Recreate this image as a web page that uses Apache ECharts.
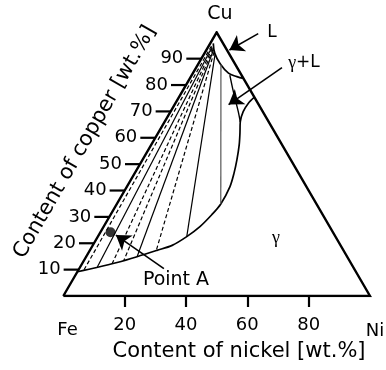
<!DOCTYPE html>
<html>
<head>
<meta charset="utf-8">
<script src="https://cdn.jsdelivr.net/npm/echarts@6/dist/echarts.min.js"></script>
<style>
html,body{margin:0;padding:0;background:#fff;}
#c{width:386px;height:370px;}
</style>
</head>
<body>
<div id="c"></div>
<script>
// All compositions are [Ni wt.%, Cu wt.%] (Fe = balance)
const triangle = [[0, 0], [100, 0], [0, 100], [0, 0]];
const liquidus = [[1, 95.8], [3.4, 92], [7, 88.2], [11.6, 84.5], [15, 83.2], [17.5, 82.5]];
const solidus = [[0, 9.2], [5.5, 10.8], [11.2, 12.7], [16.6, 14.9], [21.9, 17.3], [25.9, 19.2],
  [29, 22.5], [31.4, 26.3], [33, 30.8], [33.9, 34.9], [33.6, 41.5], [32.4, 46.5], [30.8, 51.6],
  [28.7, 57.3], [26.7, 61.8], [24.7, 66], [23.7, 69.9], [23.8, 73.1], [24.6, 75.4]];
const gammaLBoundary = [[12.4, 83.8], [16.7, 77.5], [22.1, 69.9], [24.7, 66]];
const tieLiquid = [[0.9, 94.8], [1.3, 94.4], [1.6, 94], [2, 93.7], [2.3, 93.3], [2.9, 92.5], [3.6, 91.8], [7.5, 87.8]];
const tieSolid = [[1.8, 9.7], [5.6, 11], [9.8, 12.2], [13, 13.4], [16.6, 14.9], [21.7, 17.2], [29, 22.5], [33.9, 34.9]];
const tieDashed = [true, false, true, true, false, true, false, false];
const pointA = [3.3, 24.2];
const arrowL = [[13.8, 99.5], [7.5, 93.3]];
const arrowGammaL = [[28, 86.6], [17.6, 72.6]];
const arrowPointA = [[27.6, 10.4], [5.6, 23.1]];
const nickelTicks = [20, 40, 60, 80];
const copperTicks = [10, 20, 30, 40, 50, 60, 70, 80, 90];

const FONT = '"DejaVu Sans", sans-serif';
function xy(p) { return [p[0] + p[1] / 2, p[1]]; }

const series = [];
series.push({
  type: 'line', data: triangle.map(xy), symbol: 'none', silent: true,
  lineStyle: { color: '#000', width: 2.4, join: 'miter' }
});
series.push({
  type: 'line', data: liquidus.map(xy), symbol: 'none', smooth: 0.4,
  lineStyle: { color: '#000', width: 1.7 }
});
series.push({
  type: 'line', data: solidus.map(xy), symbol: 'none', smooth: 0.3,
  lineStyle: { color: '#000', width: 1.7 }
});
series.push({
  type: 'line', data: gammaLBoundary.map(xy), symbol: 'none', smooth: 0.3,
  lineStyle: { color: '#000', width: 1.4 }
});
tieLiquid.forEach((t, i) => {
  series.push({
    type: 'line', data: [xy(t), xy(tieSolid[i])], symbol: 'none',
    lineStyle: { color: i === tieLiquid.length - 1 ? '#555' : '#000', width: 1.2, type: tieDashed[i] ? [4, 2.5] : 'solid' }
  });
});
series.push({
  type: 'scatter', data: [xy(pointA)], symbol: 'circle', symbolSize: 10,
  itemStyle: { color: '#000' }
});
series.push({
  type: 'lines', coordinateSystem: 'cartesian2d', symbol: ['none', 'arrow'], symbolSize: 14,
  lineStyle: { color: '#000', width: 1.6, opacity: 1, curveness: 0 },
  data: [arrowL, arrowGammaL, arrowPointA].map(a => ({ coords: a.map(xy) }))
});
series.push({
  type: 'custom', data: copperTicks.map(v => [v]),
  renderItem: function (params, api) {
    const c = api.value(0);
    const p = api.coord([c / 2, c]);
    return {
      type: 'group', children: [
        { type: 'line', shape: { x1: p[0] - 15, y1: p[1], x2: p[0], y2: p[1] }, style: { stroke: '#000', lineWidth: 2.2 } },
        { type: 'text', style: { text: String(c), x: p[0] - 18, y: p[1], align: 'right', verticalAlign: 'middle', font: '18px ' + FONT, fill: '#000' } }
      ]
    };
  }
});

function label(text, x, y, size, extra) {
  return Object.assign({
    type: 'text', x: x, y: y,
    style: { text: text, font: size + 'px ' + FONT, fill: '#000', align: 'center', verticalAlign: 'middle' }
  }, extra || {});
}

const chart = echarts.init(document.getElementById('c'));
chart.setOption({
  animation: false,
  grid: { left: 63.3, right: 16, top: 32.3, bottom: 74 },
  xAxis: {
    type: 'value', min: 0, max: 100, interval: 20, offset: 2,
    axisLine: { show: false },
    splitLine: { show: false },
    axisTick: { show: true, customValues: nickelTicks, length: 11, lineStyle: { color: '#000', width: 2.2 } },
    axisLabel: { customValues: nickelTicks, margin: 18, fontSize: 18, fontFamily: 'DejaVu Sans', color: '#000' }
  },
  yAxis: { type: 'value', min: 0, max: 100, show: false },
  series: series,
  graphic: [
    label('Cu', 220, 14, 19),
    label('L', 272, 32.5, 17),
    {
      type: 'text', x: 304, y: 63,
      style: { rich: { g: { font: '18px "Liberation Serif", serif' }, t: { font: '17px ' + FONT } }, text: '{g|γ}{t|+L}', fill: '#000', align: 'center', verticalAlign: 'middle' }
    },
    { type: 'text', x: 276, y: 238, style: { text: 'γ', font: '18px "Liberation Serif", serif', fill: '#000', align: 'center', verticalAlign: 'middle' } },
    label('Fe', 67.5, 330, 18),
    label('Ni', 375, 331, 18),
    label('Point A', 176, 280, 19),
    label('Content of nickel [wt.%]', 239, 352, 21),
    label('Content of copper [wt.%]', 85, 142, 21, { rotation: Math.PI / 3 })
  ]
});
</script>
</body>
</html>
